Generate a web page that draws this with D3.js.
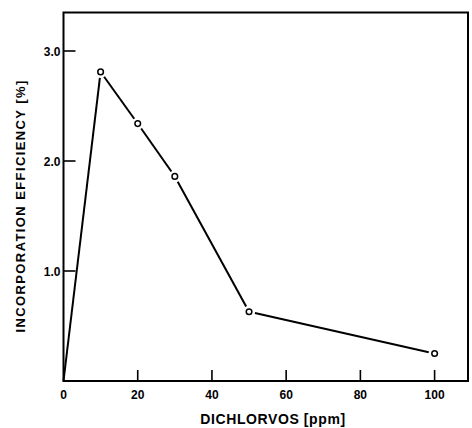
<!DOCTYPE html>
<html><head><meta charset="utf-8">
<script src="https://cdn.jsdelivr.net/npm/d3@7/dist/d3.min.js"></script>
<style>body{margin:0;background:#fff}svg{display:block}</style>
</head><body>
<svg id="c" width="472" height="428"></svg>
<script>
const doses = [0, 10, 20, 30, 50, 100];
const efficiency = [0, 2.81, 2.34, 1.86, 0.63, 0.25];
const markerShown = [false, true, true, true, true, true];
const xTicks = [0, 20, 40, 60, 80, 100];
const yTicks = [1.0, 2.0, 3.0];
const xTitle = "DICHLORVOS [ppm]";
const yTitle = "INCORPORATION EFFICIENCY [%]";

const svg = d3.select("#c");
const x = d3.scaleLinear().domain([0, 109]).range([63.5, 468]);
const y = d3.scaleLinear().domain([0, 3.35]).range([381, 12.5]);
const font = "'Liberation Sans', Arial, sans-serif";

// frame
svg.append("rect").attr("x", x(0)).attr("y", y(3.35))
  .attr("width", x(109) - x(0)).attr("height", y(0) - y(3.35))
  .attr("fill", "none").attr("stroke", "#000").attr("stroke-width", 2);

// x ticks (inward)
const xa = svg.append("g");
xTicks.forEach(t => {
  if (t !== 0) xa.append("line").attr("x1", x(t)).attr("x2", x(t))
    .attr("y1", y(0)).attr("y2", y(0) - 11).attr("stroke", "#000").attr("stroke-width", 1.6);
  xa.append("text").attr("x", x(t)).attr("y", 399).attr("text-anchor", "middle")
    .attr("font-family", font).attr("font-weight", "bold").attr("font-size", 12)
    .text(d3.format("d")(t));
});
// y ticks (inward)
const ya = svg.append("g");
yTicks.forEach(t => {
  ya.append("line").attr("x1", x(0)).attr("x2", x(0) + 12)
    .attr("y1", y(t)).attr("y2", y(t)).attr("stroke", "#000").attr("stroke-width", 1.6);
  ya.append("text").attr("x", x(0) - 3).attr("y", y(t) + 4.5).attr("text-anchor", "end")
    .attr("font-family", font).attr("font-weight", "bold").attr("font-size", 12)
    .text(d3.format(".1f")(t));
});

// line segments with gaps at markers
const pts = doses.map((d, i) => [x(d), y(efficiency[i])]);
const gap = 6;
const lineGen = d3.line();
for (let i = 0; i < pts.length - 1; i++) {
  const [x1, y1] = pts[i], [x2, y2] = pts[i + 1];
  const len = Math.hypot(x2 - x1, y2 - y1);
  const ux = (x2 - x1) / len, uy = (y2 - y1) / len;
  const g1 = markerShown[i] ? gap : 0, g2 = markerShown[i + 1] ? gap : 0;
  svg.append("path")
    .attr("d", lineGen([[x1 + ux * g1, y1 + uy * g1], [x2 - ux * g2, y2 - uy * g2]]))
    .attr("stroke", "#000").attr("stroke-width", 2).attr("fill", "none");
}
svg.selectAll("circle.m").data(doses.filter((d, i) => markerShown[i]))
  .enter().append("circle").attr("class", "m")
  .attr("cx", d => x(d)).attr("cy", d => y(efficiency[doses.indexOf(d)]))
  .attr("r", 2.8).attr("fill", "#fff").attr("stroke", "#000").attr("stroke-width", 1.5);

// titles
svg.append("text").attr("x", 273).attr("y", 424).attr("text-anchor", "middle")
  .attr("font-family", font).attr("font-weight", "bold").attr("font-size", 14)
  .attr("letter-spacing", 0.6).text(xTitle);
svg.append("text").attr("transform", "translate(25,206) rotate(-90)")
  .attr("text-anchor", "middle").attr("font-family", font).attr("font-weight", "bold")
  .attr("font-size", 13).attr("letter-spacing", 1.4).text(yTitle);
</script>
</body></html>
